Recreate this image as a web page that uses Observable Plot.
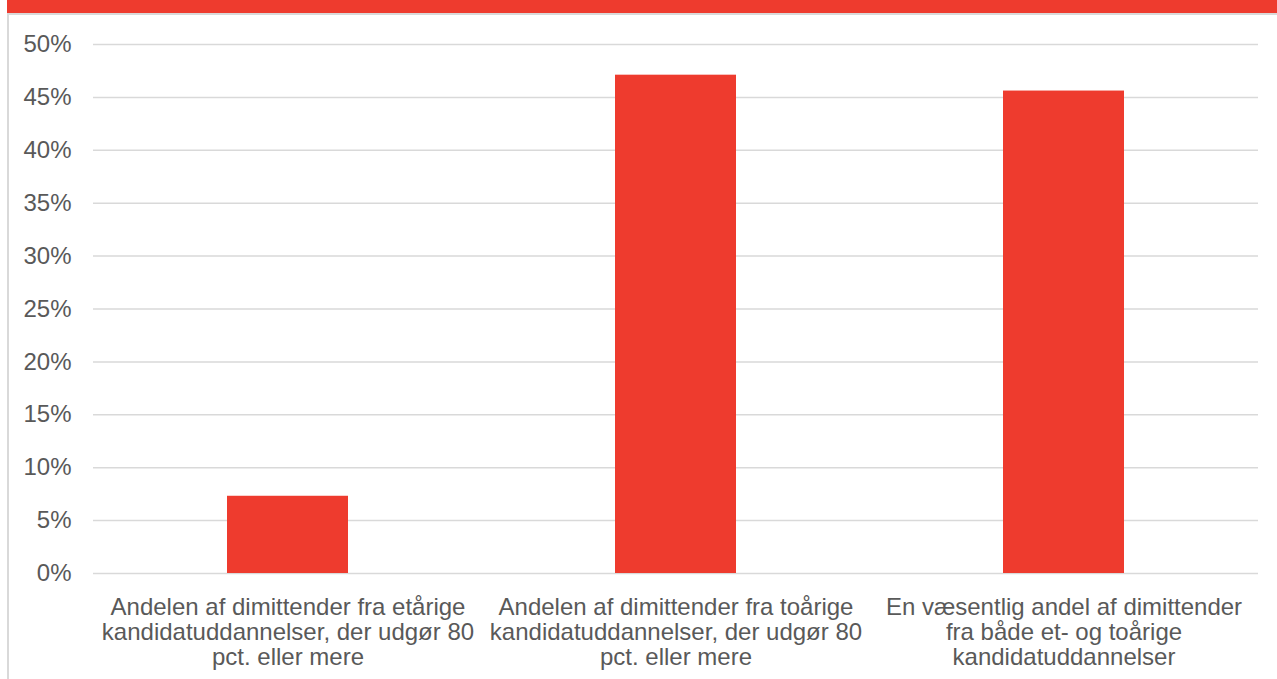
<!DOCTYPE html>
<html>
<head>
<meta charset="utf-8">
<script src="https://cdn.jsdelivr.net/npm/d3@7"></script>
<script src="https://cdn.jsdelivr.net/npm/@observablehq/plot@0.6"></script>
<style>
  html, body { margin: 0; padding: 0; background: #fff; width: 1277px; height: 679px; overflow: hidden; }
  #wrap { position: relative; width: 1277px; height: 679px; }
  #band { position: absolute; left: 7px; top: 0; width: 1270px; height: 13px; background: #EE3B2E; }
  #topline { position: absolute; left: 7px; top: 13px; width: 1270px; height: 2px; background: #d9d9d9; }
  #leftline { position: absolute; left: 7px; top: 13px; width: 2px; height: 666px; background: #d9d9d9; }
  #chart { position: absolute; left: 0; top: 0; }
</style>
</head>
<body>
<div id="wrap">
  <div id="chart"></div>
  <div id="band"></div>
  <div id="topline"></div>
  <div id="leftline"></div>
</div>
<script>
const categories = [
  "Andelen af dimittender fra etårige\nkandidatuddannelser, der udgør 80\npct. eller mere",
  "Andelen af dimittender fra toårige\nkandidatuddannelser, der udgør 80\npct. eller mere",
  "En væsentlig andel af dimittender\nfra både et- og toårige\nkandidatuddannelser"
];
const values = [0.073, 0.471, 0.456];
const yTicks = [0, 0.05, 0.10, 0.15, 0.20, 0.25, 0.30, 0.35, 0.40, 0.45, 0.50];

const data = categories.map((c, i) => ({category: c, value: values[i]}));

const chart = Plot.plot({
  width: 1277,
  height: 679,
  marginTop: 44,
  marginBottom: 106,
  marginLeft: 93,
  marginRight: 19,
  style: {fontFamily: "'Liberation Sans', Arial, sans-serif", fontSize: "24px", color: "#595959", background: "transparent"},
  x: {domain: categories, paddingInner: 0.688, paddingOuter: 0.344, label: null},
  y: {domain: [0, 0.5], label: null},
  marks: [
    Plot.ruleY(yTicks, {stroke: "#d9d9d9", strokeWidth: 1.5}),
    Plot.barY(data, {x: "category", y: "value", fill: "#EE3B2E"}),
    Plot.axisY({ticks: yTicks, tickFormat: d => Math.round(d * 100) + "%", tickSize: 0, tickPadding: 22, fontSize: 24, fill: "#595959", label: null}),
    Plot.axisX({tickSize: 0, tickPadding: 24, fontSize: 24, lineHeight: 1.042, fill: "#595959", label: null, textOverflow: null})
  ]
});
document.getElementById("chart").appendChild(chart);
</script>
</body>
</html>
